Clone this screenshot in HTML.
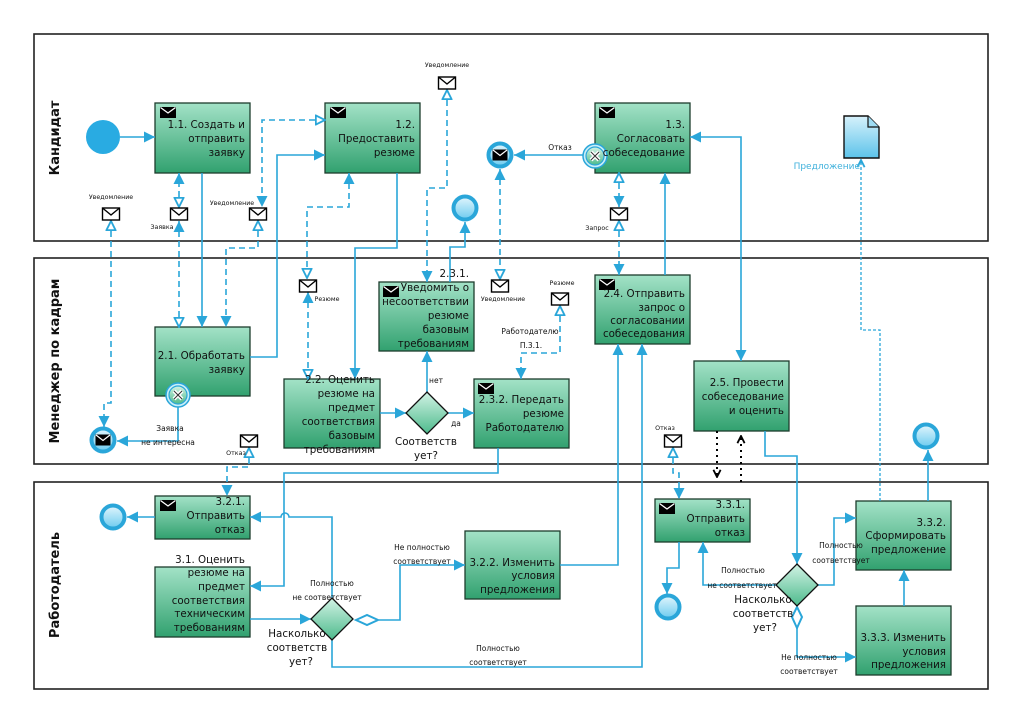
<!DOCTYPE html>
<html><head><meta charset="utf-8"><style>
html,body{margin:0;padding:0;background:#fff}
svg{display:block}
.t{font-family:"DejaVu Sans","Liberation Sans",sans-serif;font-size:10.3px;fill:#111}
.s{font-family:"DejaVu Sans","Liberation Sans",sans-serif;font-size:7.5px;fill:#111}
.xs{font-family:"DejaVu Sans","Liberation Sans",sans-serif;font-size:6.3px;fill:#111}
.lane{font-family:"DejaVu Sans","Liberation Sans",sans-serif;font-size:13px;font-weight:bold;fill:#111}
.f{fill:none;stroke:#2aa6d9;stroke-width:1.6}
.m{fill:none;stroke:#2aa6d9;stroke-width:1.6;stroke-dasharray:6,4}
</style></head><body>
<svg width="1024" height="723" viewBox="0 0 1024 723" xmlns="http://www.w3.org/2000/svg">
<defs>
<linearGradient id="tg" x1="0" y1="0" x2="0" y2="1"><stop offset="0" stop-color="#a3e2c7"/><stop offset="1" stop-color="#31a16f"/></linearGradient>
<linearGradient id="gg" x1="0" y1="0" x2="0" y2="1"><stop offset="0" stop-color="#d2f3e5"/><stop offset="1" stop-color="#4dba8c"/></linearGradient>
<linearGradient id="eg" x1="0" y1="0" x2="0" y2="1"><stop offset="0" stop-color="#e3f6fd"/><stop offset="1" stop-color="#6ccbef"/></linearGradient>
<linearGradient id="dg" x1="0" y1="0" x2="0" y2="1"><stop offset="0" stop-color="#d6f1fb"/><stop offset="1" stop-color="#5cc3ea"/></linearGradient>
<marker id="af" viewBox="0 0 10 10" refX="10" refY="5" markerWidth="11" markerHeight="11" markerUnits="userSpaceOnUse" orient="auto-start-reverse"><path d="M0,0 L10,5 L0,10 z" fill="#2aa6d9"/></marker>
<marker id="ao" viewBox="0 0 12 12" refX="11" refY="6" markerWidth="11" markerHeight="11" markerUnits="userSpaceOnUse" orient="auto-start-reverse"><path d="M1,1 L11,6 L1,11 z" fill="#fff" stroke="#2aa6d9" stroke-width="2"/></marker>
<marker id="ch" viewBox="0 0 10 10" refX="9" refY="5" markerWidth="9" markerHeight="9" markerUnits="userSpaceOnUse" orient="auto"><path d="M1,1 L9,5 L1,9" fill="none" stroke="#2aa6d9" stroke-width="2"/></marker>
<marker id="bk" viewBox="0 0 10 10" refX="9" refY="5" markerWidth="9" markerHeight="9" markerUnits="userSpaceOnUse" orient="auto"><path d="M1,1 L9,5 L1,9" fill="none" stroke="#000" stroke-width="2"/></marker>
<g id="env"><rect x="-8.5" y="-6" width="17" height="12" fill="#fff" stroke="#000" stroke-width="1.4"/><path d="M-8.5,-6 L0,1 L8.5,-6" fill="none" stroke="#000" stroke-width="1.4"/></g>
<g id="benv"><rect x="0" y="0" width="16" height="11" fill="#000"/><path d="M0.5,0.5 L8,6 L15.5,0.5" fill="none" stroke="#fff" stroke-width="1.3"/></g>
<g id="endm"><circle r="11.5" fill="url(#eg)" stroke="#2aa6d9" stroke-width="4"/><rect x="-7.5" y="-5.5" width="15" height="11" fill="#000"/><path d="M-7,-5 L0,0.5 L7,-5" fill="none" stroke="#fff" stroke-width="1.2"/></g>
<g id="end"><circle r="11.5" fill="url(#eg)" stroke="#2aa6d9" stroke-width="4"/></g>
<g id="err"><circle r="12" fill="#c8eef8" stroke="#2aa6d9" stroke-width="1.5"/><circle r="9" fill="url(#gg)" stroke="#2aa6d9" stroke-width="1.2"/><path d="M-4,-4 L4,4 M4,-4 L-4,4" stroke="#fff" stroke-width="4"/><path d="M-4,-4 L4,4 M4,-4 L-4,4" stroke="#333" stroke-width="1"/></g>
</defs>

<!-- pools -->
<rect x="34" y="34" width="954" height="207" fill="none" stroke="#222" stroke-width="1.6"/>
<rect x="34" y="258" width="954" height="206" fill="none" stroke="#222" stroke-width="1.6"/>
<rect x="34" y="482" width="954" height="207" fill="none" stroke="#222" stroke-width="1.6"/>
<text class="lane" transform="translate(59,138) rotate(-90)" text-anchor="middle">Кандидат</text>
<text class="lane" transform="translate(59,361) rotate(-90)" text-anchor="middle">Менеджер по кадрам</text>
<text class="lane" transform="translate(59,585) rotate(-90)" text-anchor="middle">Работодатель</text>

<!-- tasks -->
<g stroke="#1d3d2d" stroke-width="1.3" fill="url(#tg)">
<rect x="155" y="103" width="95" height="70"/>
<rect x="325" y="103" width="95" height="70"/>
<rect x="595" y="103" width="95" height="70"/>
<rect x="155" y="327" width="95" height="69"/>
<rect x="284" y="379" width="96" height="69"/>
<rect x="379" y="282" width="95" height="69"/>
<rect x="474" y="379" width="95" height="69"/>
<rect x="595" y="275" width="95" height="69"/>
<rect x="694" y="361" width="95" height="70"/>
<rect x="155" y="496" width="95" height="43"/>
<rect x="155" y="567" width="95" height="70"/>
<rect x="465" y="531" width="95" height="68"/>
<rect x="655" y="499" width="95" height="43"/>
<rect x="856" y="501" width="95" height="69"/>
<rect x="856" y="606" width="95" height="69"/>
</g>
<use href="#benv" x="160" y="107"/><use href="#benv" x="330" y="107"/><use href="#benv" x="599" y="107"/>
<use href="#benv" x="383" y="286"/><use href="#benv" x="478" y="383"/><use href="#benv" x="599" y="279"/>
<use href="#benv" x="160" y="500"/><use href="#benv" x="659" y="503"/>

<!-- sequence flows -->
<g class="f">
<path d="M120,137 H155" marker-end="url(#af)"/>
<path d="M202,173 V327" marker-end="url(#af)"/>
<path d="M250,357 H277 V155 H325" marker-end="url(#af)"/>
<path d="M397,173 V248 H355 V379" marker-end="url(#af)"/>
<path d="M380,413 H406" marker-end="url(#af)"/>
<path d="M427,392 V351" marker-end="url(#af)"/>
<path d="M448,413 H474" marker-end="url(#af)"/>
<path d="M498,448 V473 H284 V586 H250" marker-end="url(#af)"/>
<path d="M250,619 H311" marker-end="url(#af)"/>
<path d="M332,598 V517 H289 a4,4 0 0 0 -8,0 H250" marker-end="url(#af)"/>
<path d="M379,620 H400 V565 H465" marker-end="url(#af)"/>
<path d="M332,640 V667 H642 V344" marker-end="url(#af)"/>
<path d="M560,565 H618 V344" marker-end="url(#af)"/>
<path d="M155,517 H127" marker-end="url(#af)"/>
<path d="M665,275 V173" marker-end="url(#af)"/>
<path d="M741,361 V137 H690" marker-start="url(#af)" marker-end="url(#af)"/>
<path d="M765,431 V456 H797 V564" marker-end="url(#af)"/>
<path d="M776,585 H703 V542" marker-end="url(#af)"/>
<path d="M679,542 V568 H667 V594" marker-end="url(#af)"/>
<path d="M818,585 H834 V518 H856" marker-end="url(#af)"/>
<path d="M797,627 V657 H856" marker-end="url(#af)"/>
<path d="M904,606 V570" marker-end="url(#af)"/>
<path d="M928,501 V450" marker-end="url(#af)"/>
<path d="M583,155 H514" marker-end="url(#af)"/>
<path d="M178,407 V441 H117" marker-end="url(#af)"/>
<path d="M450,282 V247 H465 V222" marker-end="url(#af)"/>
</g>
<!-- default diamonds -->
<polygon points="356,620 367,615 378,620 367,625" fill="#fff" stroke="#2aa6d9" stroke-width="2"/>
<polygon points="797,607 802,617 797,628 792,617" fill="#fff" stroke="#2aa6d9" stroke-width="2"/>

<!-- message flows -->
<g class="m">
<path d="M111,221 V403 H104 V427" marker-start="url(#ao)" marker-end="url(#af)"/>
<path d="M179,207 V173" marker-start="url(#ao)" marker-end="url(#af)"/>
<path d="M179,221 V327" marker-start="url(#af)" marker-end="url(#ao)"/>
<path d="M325,120 H262 V207" marker-start="url(#ao)" marker-end="url(#af)"/>
<path d="M258,221 V248 H226 V327" marker-start="url(#ao)" marker-end="url(#af)"/>
<path d="M349,173 V207 H307 V278" marker-start="url(#af)" marker-end="url(#ao)"/>
<path d="M308,292 V379" marker-start="url(#af)" marker-end="url(#ao)"/>
<path d="M447,90 V188 H427 V282" marker-start="url(#ao)" marker-end="url(#af)"/>
<path d="M500,169 V279" marker-start="url(#af)" marker-end="url(#ao)"/>
<path d="M560,306 V353 H521 V379" marker-start="url(#ao)" marker-end="url(#af)"/>
<path d="M619,173 V207" marker-start="url(#ao)" marker-end="url(#af)"/>
<path d="M619,221 V275" marker-start="url(#ao)" marker-end="url(#af)"/>
<path d="M249,448 V467 H227 V496" marker-start="url(#ao)" marker-end="url(#af)"/>
<path d="M673,448 V473 H679 V499" marker-start="url(#ao)" marker-end="url(#af)"/>
</g>
<path d="M880,501 V330 H861 V160" fill="none" stroke="#2aa6d9" stroke-width="1.3" stroke-dasharray="3,2" marker-end="url(#ch)"/>
<path d="M717,431 V477" fill="none" stroke="#000" stroke-width="2" stroke-dasharray="2,4" marker-end="url(#bk)"/>
<path d="M741,482 V436" fill="none" stroke="#000" stroke-width="2" stroke-dasharray="2,4" marker-end="url(#bk)"/>

<!-- envelopes -->
<use href="#env" x="447" y="83"/><use href="#env" x="111" y="214"/><use href="#env" x="179" y="214"/>
<use href="#env" x="258" y="214"/><use href="#env" x="619" y="214"/><use href="#env" x="308" y="286"/>
<use href="#env" x="500" y="286"/><use href="#env" x="560" y="299"/><use href="#env" x="249" y="441"/>
<use href="#env" x="673" y="441"/>

<!-- gateways -->
<g fill="url(#gg)" stroke="#111" stroke-width="1.3">
<polygon points="427,392 448,413 427,434 406,413"/>
<polygon points="332,598 353,619 332,640 311,619"/>
<polygon points="797,564 818,585 797,606 776,585"/>
</g>

<!-- events -->
<circle cx="103" cy="137" r="17" fill="#29abe2"/>
<use href="#end" x="465" y="208"/><use href="#end" x="926" y="436"/><use href="#end" x="113" y="517"/><use href="#end" x="668" y="607"/>
<use href="#endm" x="500" y="155"/><use href="#endm" x="103" y="440"/>
<use href="#err" x="595" y="156"/><use href="#err" x="178" y="395"/>

<!-- data object -->
<path d="M844,116 H868 L879,127 V158 H844 Z" fill="url(#dg)" stroke="#111" stroke-width="1.4"/>
<path d="M868,116 V127 H879" fill="#9fdcf3" stroke="#111" stroke-width="1.2"/>
<text x="860" y="169" text-anchor="end" style="font-family:'DejaVu Sans','Liberation Sans',sans-serif;font-size:9px;fill:#3fb1dc">Предложение</text>

<!-- task text -->
<g class="t" text-anchor="end">
<text x="245" y="128">1.1. Создать и</text><text x="245" y="142">отправить</text><text x="245" y="156">заявку</text>
<text x="415" y="128">1.2.</text><text x="415" y="142">Предоставить</text><text x="415" y="156">резюме</text>
<text x="685" y="128">1.3.</text><text x="685" y="142">Согласовать</text><text x="685" y="156">собеседование</text>
<text x="245" y="359">2.1. Обработать</text><text x="245" y="373">заявку</text>
<text x="375" y="383">2.2. Оценить</text><text x="375" y="397">резюме на</text><text x="375" y="411">предмет</text><text x="375" y="425">соответствия</text><text x="375" y="439">базовым</text><text x="375" y="453">требованиям</text>
<text x="469" y="277">2.3.1.</text><text x="469" y="291">Уведомить о</text><text x="469" y="305">несоответствии</text><text x="469" y="319">резюме</text><text x="469" y="333">базовым</text><text x="469" y="347">требованиям</text>
<text x="564" y="403">2.3.2. Передать</text><text x="564" y="417">резюме</text><text x="564" y="431">Работодателю</text>
<text x="685" y="297">2.4. Отправить</text><text x="685" y="311">запрос о</text><text x="685" y="324">согласовании</text><text x="685" y="337">собеседования</text>
<text x="784" y="386">2.5. Провести</text><text x="784" y="400">собеседование</text><text x="784" y="414">и оценить</text>
<text x="245" y="505">3.2.1.</text><text x="245" y="519">Отправить</text><text x="245" y="533">отказ</text>
<text x="245" y="563">3.1. Оценить</text><text x="245" y="576">резюме на</text><text x="245" y="590">предмет</text><text x="245" y="604">соответствия</text><text x="245" y="617">техническим</text><text x="245" y="631">требованиям</text>
<text x="555" y="566">3.2.2. Изменить</text><text x="555" y="579">условия</text><text x="555" y="593">предложения</text>
<text x="745" y="508">3.3.1.</text><text x="745" y="522">Отправить</text><text x="745" y="536">отказ</text>
<text x="946" y="526">3.3.2.</text><text x="946" y="539">Сформировать</text><text x="946" y="553">предложение</text>
<text x="946" y="641">3.3.3. Изменить</text><text x="946" y="655">условия</text><text x="946" y="668">предложения</text>
</g>

<!-- gateway labels -->
<g class="t" text-anchor="middle">
<text x="426" y="445">Соответств</text><text x="426" y="459">ует?</text>
<text x="297" y="637">Насколько</text><text x="297" y="651">соответств</text><text x="301" y="665">ует?</text>
<text x="763" y="603">Насколько</text><text x="763" y="617">соответств</text><text x="765" y="631">ует?</text>
</g>

<!-- flow labels -->
<g class="s" text-anchor="middle">
<text x="560" y="150">Отказ</text>
<text x="170" y="431">Заявка</text><text x="168" y="445">не интересна</text>
<text x="436" y="383">нет</text><text x="456" y="426">да</text>
<text x="530" y="334">Работодателю</text><text x="531" y="348">П.3.1.</text>
<text x="332" y="586">Полностью</text><text x="327" y="600">не соответствует</text>
<text x="422" y="550">Не полностью</text><text x="422" y="564">соответствует</text>
<text x="498" y="651">Полностью</text><text x="498" y="665">соответствует</text>
<text x="743" y="573">Полностью</text><text x="742" y="588">не соответствует</text>
<text x="841" y="548">Полностью</text><text x="841" y="563">соответствует</text>
<text x="809" y="660">Не полностью</text><text x="809" y="674">соответствует</text>
</g>
<g class="xs" text-anchor="middle">
<text x="447" y="67">Уведомление</text>
<text x="111" y="199">Уведомление</text>
<text x="162" y="229">Заявка</text>
<text x="232" y="205">Уведомление</text>
<text x="597" y="230">Запрос</text>
<text x="327" y="301">Резюме</text>
<text x="503" y="301">Уведомление</text>
<text x="562" y="285">Резюме</text>
<text x="236" y="455">Отказ</text>
<text x="665" y="430">Отказ</text>
</g>
</svg>
</body></html>
